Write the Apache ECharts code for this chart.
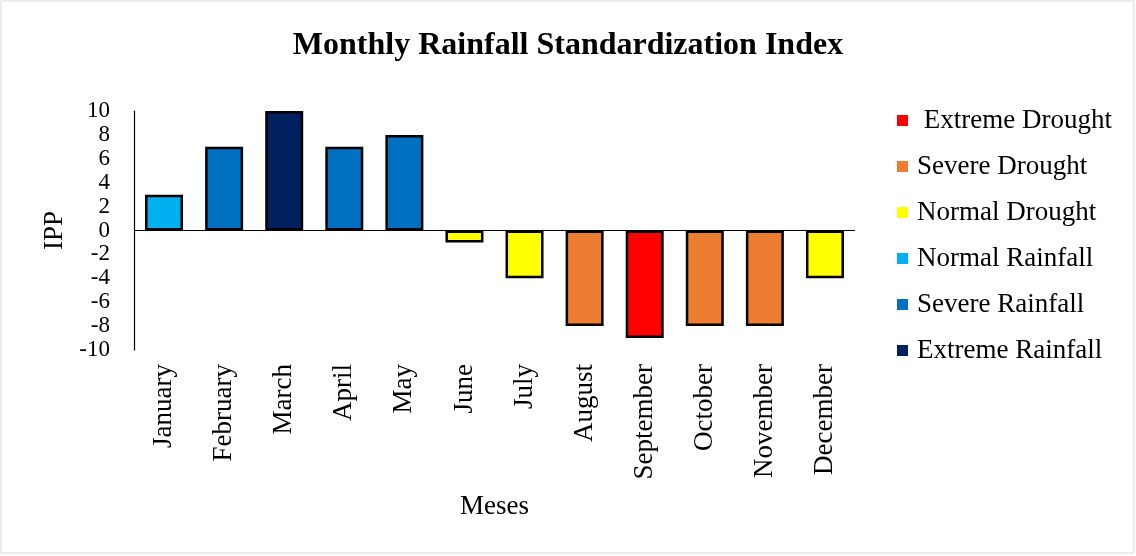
<!DOCTYPE html>
<html>
<head>
<meta charset="utf-8">
<script src="https://cdn.jsdelivr.net/npm/echarts@6/dist/echarts.min.js"></script>
<style>
  html, body { margin: 0; padding: 0; background: #fff; }
  #chart { width: 1136px; height: 556px; }
</style>
</head>
<body>
<div id="chart"></div>
<script>
// data
const months = ['January', 'February', 'March', 'April', 'May', 'June',
  'July', 'August', 'September', 'October', 'November', 'December'];
const ipp = [3, 7, 10, 7, 8, -1, -4, -8, -9, -8, -8, -4];
// class of each month (index into classNames)
const monthClass = [3, 4, 5, 4, 4, 2, 2, 1, 0, 1, 1, 2];
const classNames = ['Extreme Drought', 'Severe Drought', 'Normal Drought',
  'Normal Rainfall', 'Severe Rainfall', 'Extreme Rainfall'];
const classColors = ['#ff0000', '#ed7d31', '#ffff00', '#00b0f0', '#0070c0', '#002060'];

const font = '"Liberation Serif", "Times New Roman", serif';

const chart = echarts.init(document.getElementById('chart'));

// one series per class, empty where the month is of another class
let series = classNames.map(function (name, k) {
  return {
    name: name,
    type: 'bar',
    stack: 'all',
    barWidth: 38,
    itemStyle: { color: classColors[k], borderColor: '#000', borderWidth: 2.5 },
    data: ipp.map(function (v, i) { return monthClass[i] === k ? v : '-'; })
  };
});
// zero line
series[0].markLine = {
  silent: true,
  symbol: 'none',
  label: { show: false },
  lineStyle: { color: '#000', width: 1.2, type: 'solid' },
  data: [{ yAxis: 0 }]
};

let option = {
  backgroundColor: '#fff',
  animation: false,
  title: {
    text: 'Monthly Rainfall Standardization Index',
    left: 'center',
    top: 25,
    textStyle: { fontFamily: font, fontSize: 32, fontWeight: 'bold', color: '#000' }
  },
  legend: {
    orient: 'vertical',
    left: 892,
    top: 102,
    itemWidth: 11,
    itemHeight: 11,
    itemGap: 19,
    icon: 'rect',
    itemStyle: { borderWidth: 0 },
    formatter: function (name) { return name === 'Extreme Drought' ? ' ' + name : name; },
    textStyle: { fontFamily: font, fontSize: 27, color: '#000', padding: [0, 0, 0, 4] },
    data: classNames
  },
  grid: { left: 134, right: 281, top: 111, bottom: 206 },
  xAxis: {
    type: 'category',
    data: months,
    name: 'Meses',
    nameLocation: 'middle',
    nameGap: 143,
    nameTextStyle: { fontFamily: font, fontSize: 27, color: '#000' },
    axisLine: { show: false, onZero: false },
    axisTick: { show: false },
    axisLabel: { rotate: 90, margin: 14, fontFamily: font, fontSize: 27, color: '#000', interval: 0 }
  },
  yAxis: {
    type: 'value',
    min: -10,
    max: 10,
    interval: 2,
    name: 'IPP',
    nameLocation: 'middle',
    nameGap: 65,
    nameTextStyle: { fontFamily: font, fontSize: 27, color: '#000' },
    axisLine: { show: true, lineStyle: { color: '#000', width: 1.2 } },
    axisTick: { show: false },
    splitLine: { show: false },
    axisLabel: {
      margin: 24, fontFamily: font, fontSize: 23, color: '#000',
      showMinLabel: true, showMaxLabel: true, hideOverlap: false
    }
  },
  graphic: [{
    type: 'rect',
    shape: { x: 1, y: 1, width: 1133, height: 552 },
    style: { fill: 'none', stroke: '#d9d9d9', lineWidth: 1 },
    silent: true
  }],
  series: series
};

chart.setOption(option);
</script>
</body>
</html>
